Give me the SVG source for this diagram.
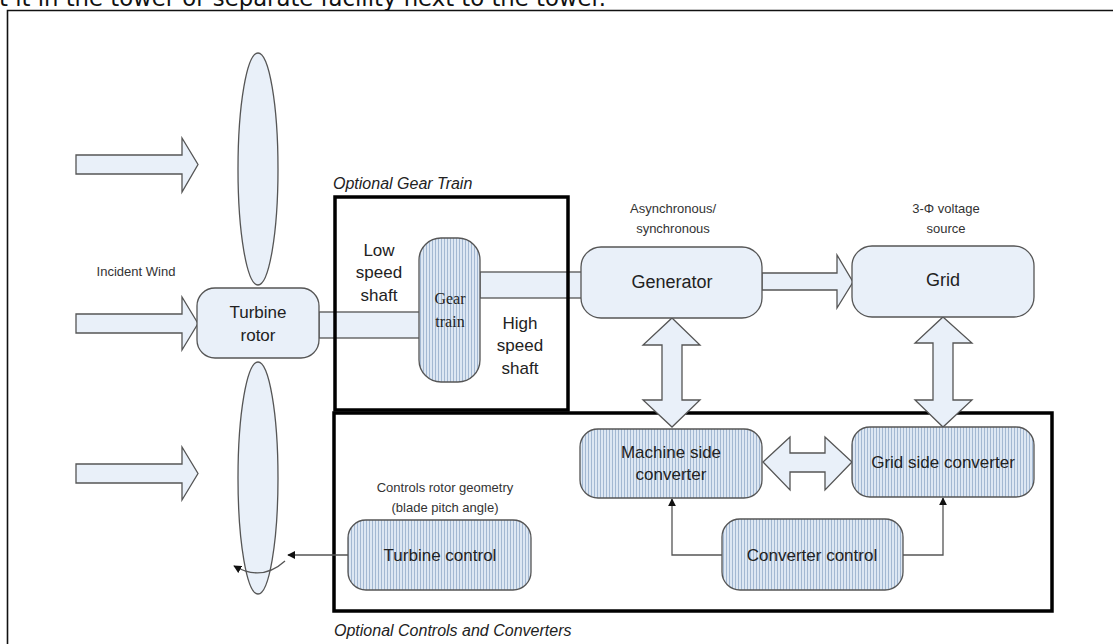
<svg xmlns="http://www.w3.org/2000/svg" width="1113" height="644" viewBox="0 0 1113 644">
<style>
.sans{font-family:"Liberation Sans",Arial,sans-serif;fill:#222;text-anchor:middle}
.lbl{font-family:"Liberation Sans",Arial,sans-serif;fill:#333;text-anchor:middle;font-size:13px}
.it{font-family:"Liberation Sans",Arial,sans-serif;font-style:italic;fill:#222;font-size:16px}
.box{fill:#e9f0f9;stroke:#555;stroke-width:1.3}
.hbox{fill:url(#hatch);stroke:#555;stroke-width:1.3}
.barrow{fill:#e9f0f9;stroke:#555;stroke-width:1.3;stroke-linejoin:miter}
.frame{fill:none;stroke:#000;stroke-width:3.5}
.conn{fill:none;stroke:#555;stroke-width:1.3}
</style>
<defs>
<pattern id="hatch" width="3" height="10" patternUnits="userSpaceOnUse">
<rect width="3" height="10" fill="#dde7f3"/>
<rect width="1" height="10" fill="#a3b8d2"/>
</pattern>
<marker id="ah" viewBox="0 0 10 10" refX="9" refY="5" markerWidth="8" markerHeight="8" orient="auto" markerUnits="userSpaceOnUse">
<path d="M0,0 L10,5 L0,10 Z" fill="#111"/>
</marker>
</defs>
<rect width="1113" height="644" fill="#fff"/>
<text x="-1" y="6" font-family="DejaVu Sans,sans-serif" font-size="23" fill="#111" textLength="607" lengthAdjust="spacingAndGlyphs">t it in the tower or separate facility next to the tower.</text>
<path d="M7.5,660 L7.5,10.5 L1120,10.5" fill="none" stroke="#111" stroke-width="1.6"/>

<g id="wind">
<path class="barrow" d="M76,155 L182,155 L182,138 L198,164.5 L182,192 L182,174 L76,174 Z"/>
<path class="barrow" d="M76,314 L182,314 L182,297 L198,323.5 L182,350 L182,333 L76,333 Z"/>
<path class="barrow" d="M76,464 L182,464 L182,447 L198,473.5 L182,500 L182,483 L76,483 Z"/>
<text class="lbl" x="136" y="276">Incident Wind</text>
</g>
<g id="blades">
<ellipse class="box" cx="258" cy="169" rx="20" ry="116"/>
<ellipse class="box" cx="258" cy="478" rx="20" ry="116"/>
</g>
<g id="shafts">
<rect class="box" x="319" y="312" width="101" height="26"/>
<rect class="box" x="480" y="272" width="102" height="26"/>
</g>
<g id="turbine-rotor">
<rect class="box" x="197" y="288" width="122" height="70" rx="18"/>
<text class="sans" x="258" y="318" font-size="17">Turbine</text>
<text class="sans" x="258" y="341" font-size="17">rotor</text>
</g>
<g id="gear-train">
<rect class="hbox" x="419" y="238" width="61" height="144" rx="22"/>
<text x="450" y="304" font-family="Liberation Serif,serif" font-size="16" fill="#222" text-anchor="middle">Gear</text>
<text x="450" y="327" font-family="Liberation Serif,serif" font-size="16" fill="#222" text-anchor="middle">train</text>
</g>
<g id="shaft-labels">
<text class="sans" x="379" y="256" font-size="17">Low</text>
<text class="sans" x="379" y="278" font-size="17">speed</text>
<text class="sans" x="379" y="301" font-size="17">shaft</text>
<text class="sans" x="520" y="329" font-size="17">High</text>
<text class="sans" x="520" y="351" font-size="17">speed</text>
<text class="sans" x="520" y="374" font-size="17">shaft</text>
</g>
<g id="optional-gear-train">
<rect class="frame" x="335" y="197" width="233" height="213"/>
<text class="it" x="333" y="189">Optional Gear Train</text>
</g>
<g id="optional-controls">
<rect class="frame" x="334" y="413" width="718" height="198"/>
<text class="it" x="334" y="636">Optional Controls and Converters</text>
</g>
<g id="connectors">
<path class="barrow" d="M762,273 L837,273 L837,255 L853,282 L837,308 L837,290 L762,290 Z"/>
<path class="barrow" d="M672,318 L700,345 L682,345 L682,400 L700,400 L672,427 L643,400 L662,400 L662,345 L643,345 Z"/>
<path class="barrow" d="M943,317 L972,343 L953,343 L953,400 L972,400 L943,427 L915,400 L933,400 L933,343 L915,343 Z"/>
<path class="barrow" d="M763,462 L790,437 L790,453 L825,453 L825,437 L852,462 L825,490 L825,472 L790,472 L790,490 Z"/>
<path class="conn" d="M348,555 L288,555" marker-end="url(#ah)"/>
<path class="conn" d="M285,561 Q262,582 234,566" marker-end="url(#ah)"/>
<path class="conn" d="M722,555 L672,555 L672,499" marker-end="url(#ah)"/>
<path class="conn" d="M903,555 L943,555 L943,498" marker-end="url(#ah)"/>
</g>
<g id="generator">
<rect class="box" x="581" y="247" width="181" height="71" rx="20"/>
<text class="sans" x="672" y="288" font-size="18">Generator</text>
<text class="lbl" x="673" y="213">Asynchronous/</text>
<text class="lbl" x="673" y="233">synchronous</text>
</g>
<g id="grid">
<rect class="box" x="852" y="246" width="182" height="71" rx="20"/>
<text class="sans" x="943" y="286" font-size="18">Grid</text>
<text class="lbl" x="946" y="213">3-Φ voltage</text>
<text class="lbl" x="946" y="233">source</text>
</g>
<g id="machine-side-converter">
<rect class="hbox" x="580" y="429" width="182" height="69" rx="18"/>
<text class="sans" x="671" y="458" font-size="17">Machine side</text>
<text class="sans" x="671" y="480" font-size="17">converter</text>
</g>
<g id="grid-side-converter">
<rect class="hbox" x="852" y="427" width="182" height="70" rx="18"/>
<text class="sans" x="943" y="468" font-size="17">Grid side converter</text>
</g>
<g id="converter-control">
<rect class="hbox" x="722" y="519" width="181" height="71" rx="18"/>
<text class="sans" x="812" y="561" font-size="17">Converter control</text>
</g>
<g id="turbine-control">
<rect class="hbox" x="348" y="520" width="183" height="70" rx="18"/>
<text class="sans" x="440" y="561" font-size="17">Turbine control</text>
<text class="lbl" x="445" y="492" font-size="14">Controls rotor geometry</text>
<text class="lbl" x="445" y="512" font-size="14">(blade pitch angle)</text>
</g>
</svg>
